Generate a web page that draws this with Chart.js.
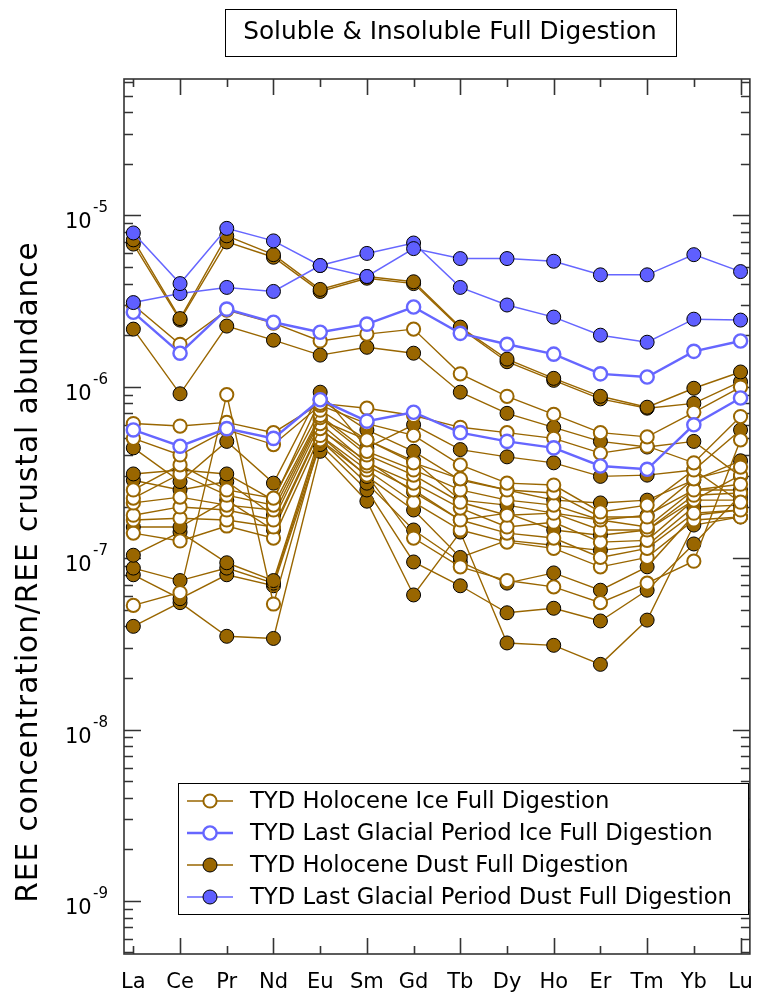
<!DOCTYPE html>
<html>
<head>
<meta charset="utf-8">
<script src="https://cdn.jsdelivr.net/npm/chart.js@4"></script>
<style>
  html, body { margin: 0; padding: 0; background: #fff; }
  #wrap { width: 769px; height: 1001px; }
</style>
</head>
<body>
<div id="wrap"><canvas id="c" width="769" height="1001"></canvas></div>
<script>
var categories = ["La", "Ce", "Pr", "Nd", "Eu", "Sm", "Gd", "Tb", "Dy", "Ho", "Er", "Tm", "Yb", "Lu"];
var yDecades = [-10, -9, -8, -7, -6, -5, -4];
var yLabelDecades = [-9, -8, -7, -6, -5];

// TYD Holocene Ice Full Digestion (open brown)
var holoIce1 = [3.0e-6, 1.77e-6, 2.8e-6, 2.35e-6, 1.85e-6, 2.03e-6, 2.17e-6, 1.19e-6, 8.8e-7, 6.9e-7, 5.4e-7, 5.1e-7, 7.1e-7, 9.96e-7];
var holoIce2 = [6.1e-7, 5.9e-7, 6.2e-7, 5.4e-7, 8.0e-7, 7.5e-7, 6.8e-7, 5.8e-7, 5.4e-7, 5.0e-7, 4.1e-7, 4.5e-7, 3.6e-7, 6.7e-7];
var holoIce3 = [5.0e-7, 4.0e-7, 5.6e-7, 4.6e-7, 7.8e-7, 6.1e-7, 5.2e-7, 3.5e-7, 2.74e-7, 2.67e-7, 1.86e-7, 2.04e-7, 3.27e-7, 2.12e-7];
var holoIce4 = [2.5e-7, 3.5e-7, 2.5e-7, 2.24e-7, 7.3e-7, 4.9e-7, 3.6e-7, 2.9e-7, 2.5e-7, 2.4e-7, 1.74e-7, 1.74e-7, 2.9e-7, 3.4e-7];
var holoIce5 = [2.24e-7, 3.1e-7, 2.33e-7, 2.04e-7, 6.8e-7, 4.2e-7, 3.27e-7, 2.5e-7, 2.18e-7, 2.04e-7, 1.67e-7, 1.52e-7, 2.5e-7, 2.7e-7];
var holoIce6 = [2.1e-7, 2.27e-7, 2.04e-7, 1.91e-7, 6.6e-7, 4.0e-7, 3.05e-7, 2.12e-7, 1.78e-7, 1.83e-7, 1.46e-7, 1.46e-7, 2.33e-7, 2.4e-7];
var holoIce7 = [1.78e-7, 1.99e-7, 1.91e-7, 1.67e-7, 6.1e-7, 3.6e-7, 2.74e-7, 1.96e-7, 1.52e-7, 1.62e-7, 1.24e-7, 1.27e-7, 2.18e-7, 3.05e-7];
var holoIce8 = [1.67e-7, 1.71e-7, 1.67e-7, 1.52e-7, 5.7e-7, 3.45e-7, 2.5e-7, 1.67e-7, 1.40e-7, 1.31e-7, 1.01e-7, 1.14e-7, 1.83e-7, 1.91e-7];
var holoIce9 = [1.40e-7, 1.26e-7, 1.54e-7, 1.31e-7, 5.2e-7, 3.27e-7, 2.12e-7, 1.46e-7, 1.24e-7, 1.14e-7, 8.9e-8, 1.01e-7, 1.67e-7, 1.74e-7];
var holoIce10 = [5.3e-8, 6.3e-8, 9.0e-7, 5.4e-8, 4.9e-7, 3.05e-7, 1.31e-7, 8.9e-8, 7.4e-8, 6.8e-8, 5.5e-8, 7.15e-8, 9.6e-8, 4.9e-7];

// TYD Holocene Dust Full Digestion (filled brown)
var holoDust1 = [7.2e-6, 2.5e-6, 7.6e-6, 5.9e-6, 3.7e-6, 4.4e-6, 4.1e-6, 2.23e-6, 1.45e-6, 1.12e-6, 8.8e-7, 7.6e-7, 9.8e-7, 1.22e-6];
var holoDust2 = [6.8e-6, 2.45e-6, 7.0e-6, 5.7e-6, 3.6e-6, 4.3e-6, 4.0e-6, 2.2e-6, 1.4e-6, 1.09e-6, 8.5e-7, 7.5e-7, 8.0e-7, 1.07e-6];
var holoDust3 = [2.17e-6, 9.1e-7, 2.26e-6, 1.87e-6, 1.53e-6, 1.70e-6, 1.57e-6, 9.3e-7, 7.0e-7, 5.8e-7, 4.8e-7, 4.45e-7, 4.8e-7, 3.0e-7];
var holoDust4 = [4.4e-7, 2.8e-7, 4.8e-7, 2.74e-7, 9.3e-7, 4.4e-7, 6.0e-7, 4.3e-7, 3.9e-7, 3.6e-7, 3.0e-7, 3.05e-7, 3.27e-7, 5.6e-7];
var holoDust5 = [3.1e-7, 3.27e-7, 3.1e-7, 2.18e-7, 8.4e-7, 5.6e-7, 4.2e-7, 2.85e-7, 2.5e-7, 2.18e-7, 2.1e-7, 2.18e-7, 2.85e-7, 3.7e-7];
var holoDust6 = [2.85e-7, 2.5e-7, 2.8e-7, 1.78e-7, 6.4e-7, 4.9e-7, 3.7e-7, 2.18e-7, 2.04e-7, 1.83e-7, 1.67e-7, 1.78e-7, 2.5e-7, 2.5e-7];
var holoDust7 = [1.52e-7, 1.52e-7, 2.18e-7, 1.46e-7, 5.6e-7, 3.7e-7, 2.43e-7, 1.67e-7, 1.83e-7, 1.46e-7, 1.36e-7, 1.46e-7, 2.18e-7, 2.18e-7];
var holoDust8 = [1.04e-7, 1.42e-7, 9.4e-8, 7.4e-8, 5.2e-7, 3.0e-7, 1.91e-7, 1.01e-7, 1.27e-7, 1.19e-7, 1.11e-7, 1.19e-7, 1.99e-7, 2.04e-7];
var holoDust9 = [8.75e-8, 7.4e-8, 8.75e-8, 7.15e-8, 4.9e-7, 2.74e-7, 1.46e-7, 9.5e-8, 7.15e-8, 8.2e-8, 6.5e-8, 8.9e-8, 1.78e-7, 1.91e-7];
var holoDust10 = [8.0e-8, 5.8e-8, 8.0e-8, 6.9e-8, 4.6e-7, 2.5e-7, 9.5e-8, 6.9e-8, 4.8e-8, 5.1e-8, 4.3e-8, 6.5e-8, 1.21e-7, 2.33e-7];
var holoDust11 = [4.0e-8, 5.5e-8, 3.5e-8, 3.4e-8, 4.2e-7, 2.15e-7, 6.1e-8, 1.42e-7, 3.2e-8, 3.1e-8, 2.4e-8, 4.35e-8, 1.56e-7, 1.74e-7];

// TYD Last Glacial Period Ice Full Digestion (open blue)
var lgpIce1 = [2.72e-6, 1.57e-6, 2.84e-6, 2.38e-6, 2.08e-6, 2.32e-6, 2.92e-6, 2.05e-6, 1.77e-6, 1.55e-6, 1.19e-6, 1.14e-6, 1.61e-6, 1.85e-6];
var lgpIce2 = [5.6e-7, 4.5e-7, 5.7e-7, 5.0e-7, 8.4e-7, 6.3e-7, 7.1e-7, 5.4e-7, 4.8e-7, 4.4e-7, 3.45e-7, 3.3e-7, 6.0e-7, 8.6e-7];

// TYD Last Glacial Period Dust Full Digestion (filled blue)
var lgpDust1 = [7.9e-6, 4.0e-6, 8.4e-6, 7.1e-6, 5.1e-6, 4.4e-6, 6.4e-6, 5.6e-6, 5.6e-6, 5.4e-6, 4.5e-6, 4.5e-6, 5.9e-6, 4.7e-6];
var lgpDust2 = [3.1e-6, 3.5e-6, 3.8e-6, 3.6e-6, 5.1e-6, 6.0e-6, 6.9e-6, 3.8e-6, 3.0e-6, 2.55e-6, 2.0e-6, 1.82e-6, 2.48e-6, 2.45e-6];

var holoIce = [holoIce1, holoIce2, holoIce3, holoIce4, holoIce5, holoIce6, holoIce7, holoIce8, holoIce9, holoIce10];
var holoDust = [holoDust1, holoDust2, holoDust3, holoDust4, holoDust5, holoDust6, holoDust7, holoDust8, holoDust9, holoDust10, holoDust11];
var lgpIce = [lgpIce1, lgpIce2];
var lgpDust = [lgpDust1, lgpDust2];

var BROWN = "#996600";
var BLUE = "#6666ff";
var BLUE_FILL = "#5f5fff";
var FONT = "'DejaVu Sans', 'Open Sans', sans-serif";

var groups = [
    { name: "TYD Holocene Ice Full Digestion", series: holoIce, order: 2,
      style: { borderColor: BROWN, borderWidth: 1.4, pointRadius: 6.6, pointBorderWidth: 2, pointBackgroundColor: "#fff", pointBorderColor: BROWN } },
    { name: "TYD Last Glacial Period Ice Full Digestion", series: lgpIce, order: 1,
      style: { borderColor: BLUE, borderWidth: 2.4, pointRadius: 6.6, pointBorderWidth: 2.4, pointBackgroundColor: "#fff", pointBorderColor: BLUE } },
    { name: "TYD Holocene Dust Full Digestion", series: holoDust, order: 3,
      style: { borderColor: BROWN, borderWidth: 1.4, pointRadius: 7, pointBorderWidth: 1, pointBackgroundColor: BROWN, pointBorderColor: "#000" } },
    { name: "TYD Last Glacial Period Dust Full Digestion", series: lgpDust, order: 0,
      style: { borderColor: BLUE, borderWidth: 1.5, pointRadius: 7, pointBorderWidth: 1, pointBackgroundColor: BLUE_FILL, pointBorderColor: "#000" } }
];

var datasets = [];
groups.forEach(function (g) {
    g.series.forEach(function (vals, k) {
        var ds = {
            label: g.name + " " + (k + 1),
            data: vals.map(function (v, i) { return { x: i, y: v }; }),
            order: g.order,
            tension: 0,
            pointHoverRadius: g.style.pointRadius,
            clip: false
        };
        Object.keys(g.style).forEach(function (key) { ds[key] = g.style[key]; });
        datasets.push(ds);
    });
});

var frame = {
    id: "frame",
    beforeDatasetsDraw: function (chart) {
        var ctx = chart.ctx, a = chart.chartArea;
        var ys = chart.scales.y, xs = chart.scales.x;
        ctx.save();
        ctx.strokeStyle = "#333";
        ctx.lineWidth = 1.6;
        ctx.strokeRect(a.left, a.top, a.right - a.left, a.bottom - a.top);
        ctx.beginPath();
        yDecades.forEach(function (n) {
            for (var k = 1; k <= 9; k++) {
                var v = k * Math.pow(10, n);
                if (v < ys.min || v > ys.max) continue;
                var y = Math.round(ys.getPixelForValue(v)) + 0.5;
                var len = k === 1 ? 17 : 9;
                ctx.moveTo(a.left, y); ctx.lineTo(a.left + len, y);
                ctx.moveTo(a.right, y); ctx.lineTo(a.right - len, y);
            }
        });
        categories.forEach(function (c, i) {
            var x = Math.round(xs.getPixelForValue(i)) + 0.5;
            var len = i % 2 === 1 ? 16 : 8;
            ctx.moveTo(x, a.bottom); ctx.lineTo(x, a.bottom - len);
            ctx.moveTo(x, a.top); ctx.lineTo(x, a.top + len);
        });
        ctx.stroke();
        ctx.restore();
    },
    afterDraw: function (chart) {
        var ctx = chart.ctx;
        var ys = chart.scales.y;
        ctx.save();
        ctx.fillStyle = "#000";
        // y tick labels 10^n
        yLabelDecades.forEach(function (n) {
            var y = ys.getPixelForValue(Math.pow(10, n));
            ctx.font = "21px " + FONT;
            ctx.textAlign = "left";
            ctx.textBaseline = "alphabetic";
            ctx.fillText("10", 65, y + 13);
            ctx.font = "15px " + FONT;
            ctx.fillText(String(n), 93, y - 3);
        });
        // y axis title
        ctx.save();
        ctx.translate(29, 572);
        ctx.rotate(-Math.PI / 2);
        ctx.font = "29.5px " + FONT;
        ctx.letterSpacing = "1px";
        ctx.textAlign = "center";
        ctx.textBaseline = "middle";
        ctx.fillText("REE concentration/REE crustal abundance", 0, 0);
        ctx.restore();
        // title box
        ctx.fillStyle = "#fff";
        ctx.fillRect(225.5, 9.5, 451, 47);
        ctx.strokeStyle = "#000";
        ctx.lineWidth = 1;
        ctx.strokeRect(225.5, 9.5, 451, 47);
        ctx.fillStyle = "#000";
        ctx.font = "24.8px " + FONT;
        ctx.textAlign = "center";
        ctx.textBaseline = "middle";
        ctx.fillText("Soluble & Insoluble Full Digestion", 450, 33);
        // legend
        ctx.fillStyle = "#fff";
        ctx.fillRect(178.5, 783.5, 570, 131);
        ctx.strokeRect(178.5, 783.5, 570, 131);
        groups.forEach(function (g, i) {
            var y = 801 + i * 32;
            var s = g.style;
            ctx.strokeStyle = s.borderColor;
            ctx.lineWidth = s.borderWidth;
            ctx.beginPath();
            ctx.moveTo(187, y); ctx.lineTo(233, y);
            ctx.stroke();
            ctx.beginPath();
            ctx.arc(210, y, s.pointRadius, 0, Math.PI * 2);
            ctx.fillStyle = s.pointBackgroundColor;
            ctx.fill();
            ctx.lineWidth = s.pointBorderWidth;
            ctx.strokeStyle = s.pointBorderColor;
            ctx.stroke();
            ctx.fillStyle = "#000";
            ctx.font = "22.7px " + FONT;
            ctx.textAlign = "left";
            ctx.textBaseline = "middle";
            ctx.fillText(g.name, 250, y + 1);
        });
        ctx.restore();
    }
};

new Chart(document.getElementById("c"), {
    type: "line",
    data: { datasets: datasets },
    options: {
        responsive: false,
        animation: false,
        devicePixelRatio: 1,
        layout: { padding: { top: 79, right: 0, bottom: 0, left: 0 } },
        plugins: { legend: { display: false }, tooltip: { enabled: false }, title: { display: false } },
        events: [],
        scales: {
            x: {
                type: "linear",
                min: -0.2,
                max: 13.2,
                grid: { display: false, drawTicks: false },
                border: { display: false },
                afterBuildTicks: function (s) { s.ticks = categories.map(function (c, i) { return { value: i }; }); },
                afterFit: function (s) { s.height = 47; },
                ticks: {
                    autoSkip: false, maxRotation: 0, padding: 16, color: "#000",
                    font: { family: FONT, size: 21 },
                    callback: function (v) { return categories[v] || ""; }
                }
            },
            y: {
                type: "logarithmic",
                min: 4.9e-10,
                max: 6.25e-5,
                grid: { display: false, drawTicks: false },
                border: { display: false },
                ticks: { display: false },
                afterFit: function (s) { s.width = 124; }
            }
        }
    },
    plugins: [frame]
});
</script>
</body>
</html>
